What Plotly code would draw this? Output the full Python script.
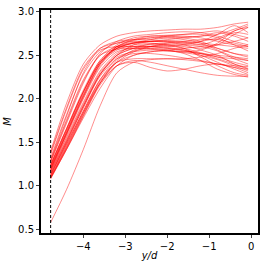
import plotly.graph_objects as go

x_pts = [-4.78, -4.4, -4.0, -3.6, -3.2, -2.8, -2.4, -2.0, -1.6, -1.2, -0.8, -0.4, -0.07]

m01 = [1.30, 1.80, 2.30, 2.58, 2.66, 2.68, 2.68, 2.70, 2.71, 2.72, 2.74, 2.80, 2.86]
m02 = [1.27, 1.72, 2.18, 2.52, 2.66, 2.72, 2.74, 2.76, 2.77, 2.76, 2.72, 2.66, 2.62]
m03 = [1.25, 1.66, 2.08, 2.42, 2.60, 2.65, 2.66, 2.66, 2.65, 2.62, 2.58, 2.52, 2.48]
m04 = [1.22, 1.62, 2.04, 2.40, 2.56, 2.62, 2.63, 2.62, 2.60, 2.58, 2.62, 2.74, 2.82]
m05 = [1.20, 1.60, 2.02, 2.40, 2.60, 2.68, 2.72, 2.73, 2.74, 2.74, 2.70, 2.62, 2.55]
m06 = [1.18, 1.56, 1.96, 2.32, 2.52, 2.60, 2.62, 2.61, 2.58, 2.53, 2.48, 2.42, 2.38]
m07 = [1.15, 1.52, 1.92, 2.28, 2.50, 2.58, 2.63, 2.64, 2.64, 2.66, 2.70, 2.78, 2.84]
m08 = [1.12, 1.48, 1.86, 2.22, 2.46, 2.55, 2.58, 2.58, 2.56, 2.52, 2.46, 2.40, 2.35]
m09 = [1.10, 1.44, 1.82, 2.18, 2.44, 2.56, 2.60, 2.62, 2.62, 2.60, 2.55, 2.46, 2.40]
m10 = [1.08, 1.42, 1.78, 2.12, 2.38, 2.50, 2.54, 2.55, 2.53, 2.50, 2.45, 2.38, 2.32]
m11 = [1.40, 1.95, 2.40, 2.62, 2.72, 2.76, 2.78, 2.79, 2.80, 2.80, 2.82, 2.86, 2.88]
m12 = [1.32, 1.82, 2.28, 2.54, 2.64, 2.68, 2.70, 2.70, 2.68, 2.64, 2.56, 2.48, 2.44]
m13 = [1.24, 1.66, 2.10, 2.44, 2.58, 2.60, 2.60, 2.58, 2.55, 2.52, 2.50, 2.48, 2.46]
m14 = [1.21, 1.62, 2.06, 2.42, 2.58, 2.64, 2.66, 2.68, 2.70, 2.72, 2.76, 2.72, 2.66]
m15 = [1.17, 1.54, 1.94, 2.30, 2.50, 2.58, 2.60, 2.59, 2.56, 2.50, 2.42, 2.34, 2.28]
m16 = [1.13, 1.50, 1.90, 2.28, 2.50, 2.62, 2.66, 2.67, 2.66, 2.64, 2.62, 2.60, 2.58]
m17 = [1.10, 1.45, 1.84, 2.20, 2.42, 2.50, 2.54, 2.56, 2.58, 2.60, 2.62, 2.66, 2.70]
m18 = [1.28, 1.74, 2.20, 2.50, 2.60, 2.64, 2.66, 2.65, 2.62, 2.56, 2.50, 2.40, 2.34]
m19 = [1.19, 1.60, 2.04, 2.40, 2.60, 2.67, 2.70, 2.72, 2.70, 2.66, 2.58, 2.52, 2.50]
m20 = [1.14, 1.50, 1.90, 2.26, 2.46, 2.52, 2.52, 2.50, 2.47, 2.44, 2.40, 2.36, 2.30]
m21 = [1.09, 1.42, 1.80, 2.16, 2.38, 2.44, 2.42, 2.38, 2.34, 2.30, 2.27, 2.26, 2.26]
m22 = [1.23, 1.64, 2.08, 2.44, 2.62, 2.70, 2.72, 2.72, 2.72, 2.70, 2.66, 2.62, 2.60]
m23 = [1.36, 1.88, 2.34, 2.56, 2.60, 2.60, 2.60, 2.60, 2.62, 2.66, 2.74, 2.84, 2.76]
m24 = [1.16, 1.52, 1.92, 2.28, 2.48, 2.54, 2.56, 2.56, 2.54, 2.52, 2.48, 2.46, 2.44]
m25 = [1.11, 1.46, 1.84, 2.18, 2.38, 2.42, 2.36, 2.32, 2.34, 2.38, 2.40, 2.36, 2.34]
m26 = [1.20, 1.60, 2.02, 2.38, 2.58, 2.64, 2.64, 2.62, 2.58, 2.48, 2.38, 2.30, 2.27]
m27 = [1.29, 1.76, 2.22, 2.50, 2.57, 2.58, 2.57, 2.55, 2.54, 2.56, 2.64, 2.78, 2.82]
m28 = [0.58, 0.96, 1.42, 1.92, 2.30, 2.42, 2.45, 2.46, 2.45, 2.43, 2.40, 2.38, 2.37]
m29 = [1.09, 1.43, 1.81, 2.18, 2.42, 2.54, 2.60, 2.64, 2.66, 2.68, 2.68, 2.64, 2.60]
m30 = [1.38, 1.90, 2.36, 2.58, 2.64, 2.66, 2.66, 2.66, 2.64, 2.62, 2.68, 2.76, 2.74]
m31 = [1.18, 1.58, 2.00, 2.36, 2.54, 2.58, 2.58, 2.56, 2.52, 2.44, 2.34, 2.28, 2.25]
m32 = [1.24, 1.65, 2.08, 2.42, 2.58, 2.64, 2.68, 2.72, 2.74, 2.76, 2.78, 2.74, 2.70]
m33 = [1.13, 1.48, 1.86, 2.22, 2.42, 2.46, 2.46, 2.46, 2.46, 2.48, 2.52, 2.58, 2.62]

series = [m01, m02, m03, m04, m05, m06, m07, m08, m09, m10, m11,
          m12, m13, m14, m15, m16, m17, m18, m19, m20, m21, m22,
          m23, m24, m25, m26, m27, m28, m29, m30, m31, m32, m33]

inlet_x = -4.78
x_ticks = [-4, -3, -2, -1, 0]
y_ticks = [0.5, 1.0, 1.5, 2.0, 2.5, 3.0]

fig = go.Figure()
for s in series:
    fig.add_trace(go.Scatter(x=x_pts, y=s, mode="lines",
                             line=dict(color="rgba(255,0,0,0.5)", width=0.9, shape="spline", smoothing=0.8),
                             showlegend=False, hoverinfo="skip"))

fig.add_shape(type="line", x0=inlet_x, x1=inlet_x, y0=0, y1=1, xref="x", yref="paper",
              line=dict(color="black", width=1, dash="3px,2px"))

fig.update_layout(
    width=266, height=266,
    margin=dict(l=34, r=7, t=6, b=30),
    plot_bgcolor="white", paper_bgcolor="white",
    font=dict(family="DejaVu Sans", size=10, color="black"),
)
fig.update_xaxes(range=[-5.01, 0.165], tickvals=x_ticks, ticks="outside", ticklen=3,
                 showgrid=False, zeroline=False, showline=True, mirror=True,
                 linecolor="black", linewidth=2,
                 title=dict(text="<i>y/d</i>", standoff=1, font=dict(size=10)))
fig.update_yaxes(range=[0.46, 3.02], tickvals=y_ticks, tickformat=".1f", ticks="outside", ticklen=3,
                 showgrid=False, zeroline=False, showline=True, mirror=True,
                 linecolor="black", linewidth=2,
                 title=dict(text="<i>M</i>", standoff=5, font=dict(size=10)))

fig.write_html("out.html", config={"displayModeBar": False},
               post_script="document.body.style.margin='0';")
